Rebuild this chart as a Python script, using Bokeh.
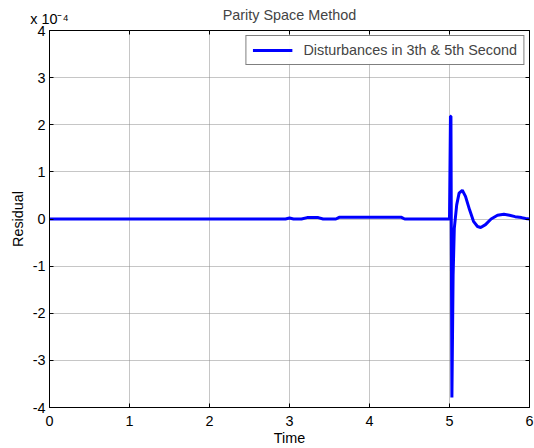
from bokeh.plotting import figure
from bokeh.models import (Range1d, LinearAxis, SingleIntervalTicker, Legend, LegendItem,
                          ColumnDataSource, CustomJSTickFormatter)
from bokeh.embed import file_html
from bokeh.resources import INLINE

# Data (residual in units of 1e-4)
time_s = [0.0, 2.95, 3.0, 3.05, 3.15, 3.22, 3.3, 3.36, 3.42, 3.5, 3.58, 3.62, 4.4, 4.44,
          5.0, 5.012, 5.018, 5.03, 5.045, 5.06, 5.09, 5.12, 5.16, 5.2, 5.25, 5.3, 5.35,
          5.39, 5.45, 5.52, 5.6, 5.68, 5.75, 5.82, 5.9, 5.95, 6.0]
residual_e4 = [0.0, 0.0, 0.02, 0.0, 0.0, 0.03, 0.03, 0.03, 0.0, 0.0, 0.0, 0.035, 0.035, 0.0,
               0.0, 2.18, 2.18, -3.79, -1.2, -0.2, 0.3, 0.55, 0.61, 0.48, 0.2, -0.05, -0.16,
               -0.18, -0.12, 0.0, 0.08, 0.1, 0.08, 0.05, 0.03, 0.01, 0.0]
x_ticks_interval = 1
y_ticks_interval = 1
title_text = "Parity Space Method"
legend_text = "Disturbances in 3th & 5th Second"
x_label = "Time"
y_label = "Residual"
exp_text = "x 10\u207b\u2074"

FONT = "Liberation Sans"
FS = "14.4px"

p = figure(width=534, height=448, output_backend="svg", toolbar_location=None,
           x_range=Range1d(0, 6), y_range=Range1d(-4, 4),
           min_border_left=49, min_border_right=5, min_border_top=30, min_border_bottom=41)
p.title.text = title_text
p.title.align = "center"
p.title.text_font = FONT
p.title.text_font_size = FS
p.title.text_font_style = "normal"
p.title.standoff = -30

src = ColumnDataSource(dict(t=time_s, r=residual_e4))
r = p.line("t", "r", source=src, line_color="#0000ff", line_width=3)

p.outline_line_color = "black"
p.outline_line_width = 1
p.background_fill_color = "white"
p.border_fill_color = "white"

plain = CustomJSTickFormatter(code="return tick.toFixed(0);")
for ax in (p.xaxis[0], p.yaxis[0]):
    ax.ticker = SingleIntervalTicker(interval=1)
    ax.formatter = plain
    ax.major_tick_in = 4
    ax.major_tick_out = 0
    ax.minor_tick_line_color = None
    ax.axis_line_color = "black"
    ax.major_tick_line_color = "black"
    ax.major_label_text_font = FONT
    ax.major_label_text_font_size = FS
    ax.major_label_text_color = "black"
    ax.axis_label_text_font = FONT
    ax.axis_label_text_font_size = FS
    ax.axis_label_text_font_style = "normal"
    ax.axis_label_text_color = "black"

p.xaxis.axis_label = x_label
p.xaxis.major_label_standoff = 4
p.xaxis.axis_label_standoff = 1
p.yaxis.axis_label = y_label
p.yaxis.major_label_standoff = 0
p.yaxis.axis_label_standoff = 4
p.yaxis.major_label_orientation = "horizontal"

blank = CustomJSTickFormatter(code="return '';")
right_ax = LinearAxis(ticker=SingleIntervalTicker(interval=1), formatter=blank)
top_ax = LinearAxis(ticker=SingleIntervalTicker(interval=1),
                    formatter=CustomJSTickFormatter(args=dict(label=exp_text),
                                                    code="return tick == 0 ? label : '';"))
for ax in (right_ax, top_ax):
    ax.major_tick_in = 4
    ax.major_tick_out = 0
    ax.minor_tick_line_color = None
    ax.axis_line_color = None
    ax.major_tick_line_color = "black"
    ax.major_label_standoff = 0
    ax.axis_label = None
top_ax.major_label_standoff = 0
top_ax.major_label_text_align = "left"
top_ax.major_label_text_font = FONT
top_ax.major_label_text_font_size = FS
top_ax.major_label_text_color = "black"
p.add_layout(right_ax, "right")
p.add_layout(top_ax, "above")

p.xgrid.ticker = SingleIntervalTicker(interval=x_ticks_interval)
p.ygrid.ticker = SingleIntervalTicker(interval=y_ticks_interval)
p.grid.grid_line_color = "#8c8c8c"
p.grid.grid_line_dash = "1 1"
p.grid.grid_line_width = 1

legend = Legend(items=[LegendItem(label=legend_text, renderers=[r])], location="top_right")
legend.margin = 5
legend.padding = 6
legend.border_line_color = "black"
legend.border_line_width = 1
legend.label_text_font = FONT
legend.label_text_font_size = FS
legend.glyph_width = 40
legend.label_standoff = 11
legend.glyph_height = 12
legend.label_height = 12
legend.spacing = 0
p.add_layout(legend, "center")

open("out.html", "w").write(file_html(p, INLINE))
